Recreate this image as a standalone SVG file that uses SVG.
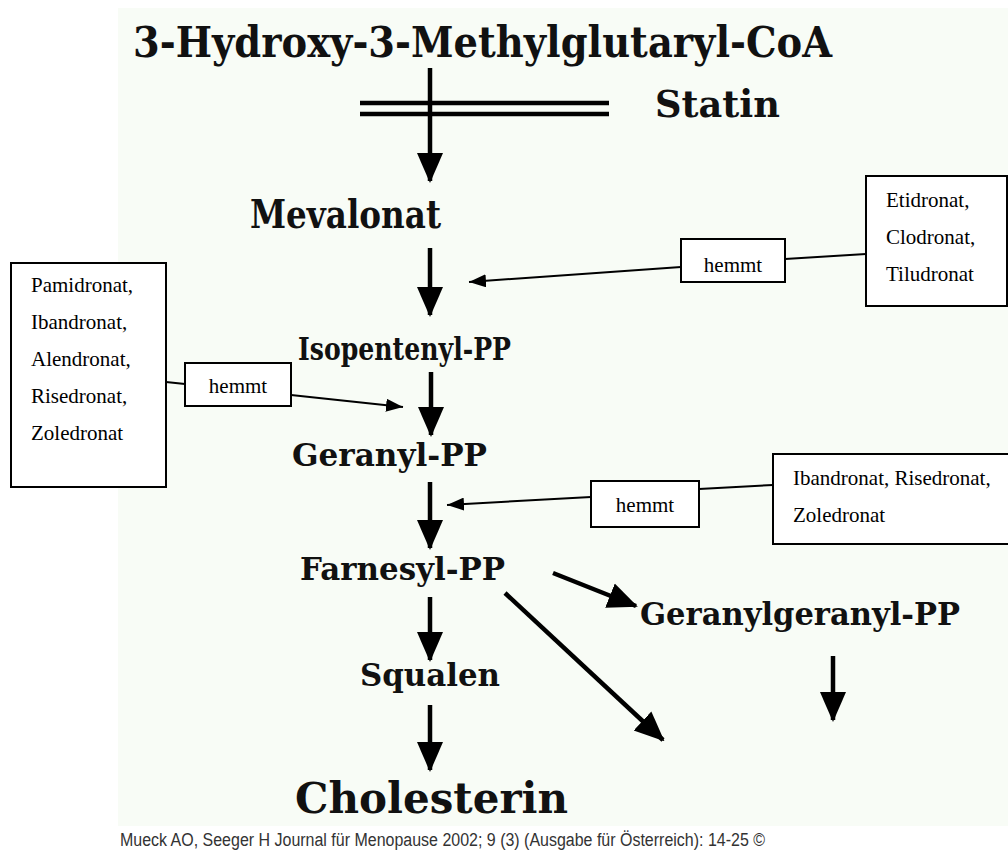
<svg xmlns="http://www.w3.org/2000/svg" width="1008" height="854" viewBox="0 0 1008 854">
<defs>
<style>
.bg{fill:#f8fcf6}
.pw{font-family:"DejaVu Serif","Liberation Serif",serif;font-weight:bold;fill:#111}
.bx{fill:#fff;stroke:#000;stroke-width:2}
.tx{font-family:"Liberation Serif","Times New Roman",serif;font-size:21px;fill:#000}
.thick{stroke:#000;stroke-width:4.5;fill:none}
.thin{stroke:#000;stroke-width:2;fill:none}
.cite{font-family:"Liberation Sans",Arial,sans-serif;font-size:18px;fill:#333}
</style>
<marker id="big" markerUnits="userSpaceOnUse" markerWidth="30" markerHeight="30" viewBox="0 0 30 28" refX="28" refY="14" orient="auto">
<path d="M0,1 L30,14 L0,27 Z" fill="#000"/>
</marker>
<marker id="small" markerUnits="userSpaceOnUse" markerWidth="17" markerHeight="13" viewBox="0 0 17 13" refX="17" refY="6.5" orient="auto">
<path d="M0,0 L17,6.5 L0,13 Z" fill="#000"/>
</marker>
</defs>
<rect width="1008" height="854" fill="#fff"/>
<rect class="bg" x="118" y="8" width="890" height="818"/>

<g id="connectors">
<line class="thick" x1="430" y1="68" x2="430" y2="181" marker-end="url(#big)"/>
<line class="thick" x1="360" y1="103" x2="609" y2="103"/>
<line class="thick" x1="360" y1="114" x2="609" y2="114"/>
<line class="thick" x1="430" y1="248" x2="430" y2="315" marker-end="url(#big)"/>
<line class="thick" x1="431" y1="372" x2="431" y2="435" marker-end="url(#big)"/>
<line class="thick" x1="430" y1="482" x2="430" y2="548" marker-end="url(#big)"/>
<line class="thick" x1="430" y1="597" x2="430" y2="660" marker-end="url(#big)"/>
<line class="thick" x1="430" y1="705" x2="430" y2="770" marker-end="url(#big)"/>
<line class="thick" x1="553" y1="573" x2="636" y2="606" marker-end="url(#big)"/>
<line class="thick" x1="505" y1="593" x2="663" y2="740" marker-end="url(#big)"/>
<line class="thick" x1="833" y1="656" x2="833" y2="720" marker-end="url(#big)"/>
<line class="thin" x1="681" y1="267" x2="469" y2="282" marker-end="url(#small)"/>
<line class="thin" x1="785" y1="259" x2="866" y2="254"/>
<line class="thin" x1="291" y1="395" x2="403" y2="407" marker-end="url(#small)"/>
<line class="thin" x1="166" y1="382" x2="185" y2="384"/>
<line class="thin" x1="591" y1="497" x2="447" y2="505" marker-end="url(#small)"/>
<line class="thin" x1="699" y1="489" x2="773" y2="485"/>
</g>

<g id="hmgcoa"><text class="pw" x="133" y="57" font-size="42" textLength="699" lengthAdjust="spacingAndGlyphs">3-Hydroxy-3-Methylglutaryl-CoA</text></g>
<g id="statin"><text class="pw" x="655" y="117" font-size="38" textLength="125" lengthAdjust="spacingAndGlyphs">Statin</text></g>
<g id="mevalonat"><text class="pw" x="250" y="228" font-size="40" textLength="191" lengthAdjust="spacingAndGlyphs">Mevalonat</text></g>
<g id="isopentenyl"><text class="pw" x="298" y="360" font-size="32" textLength="213" lengthAdjust="spacingAndGlyphs">Isopentenyl-PP</text></g>
<g id="geranyl"><text class="pw" x="292" y="466" font-size="32" textLength="195" lengthAdjust="spacingAndGlyphs">Geranyl-PP</text></g>
<g id="farnesyl"><text class="pw" x="300" y="580" font-size="32" textLength="205" lengthAdjust="spacingAndGlyphs">Farnesyl-PP</text></g>
<g id="ggpp"><text class="pw" x="640" y="625" font-size="32" textLength="320" lengthAdjust="spacingAndGlyphs">Geranylgeranyl-PP</text></g>
<g id="squalen"><text class="pw" x="360" y="686" font-size="32" textLength="140" lengthAdjust="spacingAndGlyphs">Squalen</text></g>
<g id="cholesterin"><text class="pw" x="295" y="813" font-size="42" textLength="273" lengthAdjust="spacingAndGlyphs">Cholesterin</text></g>

<g id="box-etidronat">
<rect class="bx" x="866" y="176" width="141" height="130"/>
<text class="tx" x="886" y="207">Etidronat,</text>
<text class="tx" x="886" y="244">Clodronat,</text>
<text class="tx" x="886" y="281">Tiludronat</text>
</g>
<g id="hemmt1"><rect class="bx" x="681" y="239" width="104" height="43"/><text class="tx" x="733" y="272" text-anchor="middle">hemmt</text></g>

<g id="box-pamidronat">
<rect class="bx" x="11" y="263" width="155" height="224"/>
<text class="tx" x="31" y="292">Pamidronat,</text>
<text class="tx" x="31" y="329">Ibandronat,</text>
<text class="tx" x="31" y="366">Alendronat,</text>
<text class="tx" x="31" y="403">Risedronat,</text>
<text class="tx" x="31" y="440">Zoledronat</text>
</g>
<g id="hemmt2"><rect class="bx" x="185" y="363" width="106" height="43"/><text class="tx" x="238" y="393" text-anchor="middle">hemmt</text></g>

<g id="box-ibandronat">
<rect class="bx" x="773" y="454" width="240" height="90"/>
<text class="tx" x="793" y="485">Ibandronat, Risedronat,</text>
<text class="tx" x="793" y="522">Zoledronat</text>
</g>
<g id="hemmt3"><rect class="bx" x="591" y="481" width="108" height="46"/><text class="tx" x="645" y="512" text-anchor="middle">hemmt</text></g>

<g id="citation"><text class="cite" x="120" y="846" textLength="645" lengthAdjust="spacingAndGlyphs">Mueck AO, Seeger H Journal für Menopause 2002; 9 (3) (Ausgabe für Österreich): 14-25 ©</text></g>
</svg>
